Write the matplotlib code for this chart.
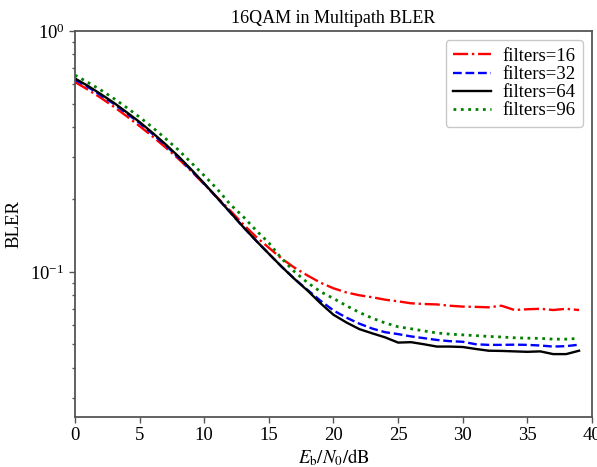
import matplotlib
matplotlib.use("Agg")
import matplotlib.pyplot as plt
import numpy as np

snr = list(range(40))
bler_16 = [0.614, 0.571, 0.528, 0.485, 0.443, 0.403, 0.365, 0.329, 0.295, 0.262,
           0.231, 0.204, 0.180, 0.158, 0.140, 0.126, 0.1135, 0.104, 0.0966, 0.0902,
           0.0855, 0.0822, 0.0800, 0.0785, 0.0767, 0.0755, 0.0741, 0.0736, 0.0733, 0.0724,
           0.0718, 0.0716, 0.0713, 0.0724, 0.0695, 0.0700, 0.0703, 0.0695, 0.0703, 0.0695]
bler_32 = [0.628, 0.586, 0.541, 0.499, 0.455, 0.415, 0.374, 0.336, 0.299, 0.264,
           0.232, 0.203, 0.177, 0.154, 0.135, 0.119, 0.105, 0.0935, 0.0841, 0.0759,
           0.0692, 0.0646, 0.0610, 0.0582, 0.0562, 0.0552, 0.0540, 0.0531, 0.0522, 0.0516,
           0.0513, 0.0501, 0.0498, 0.0498, 0.0499, 0.0498, 0.0495, 0.0490, 0.0492, 0.0499]
bler_64 = [0.635, 0.592, 0.547, 0.504, 0.460, 0.419, 0.378, 0.339, 0.302, 0.266,
           0.233, 0.203, 0.177, 0.154, 0.135, 0.119, 0.105, 0.0933, 0.0836, 0.0741,
           0.0664, 0.0617, 0.0579, 0.0556, 0.0535, 0.0509, 0.0511, 0.0501, 0.0490, 0.0490,
           0.0488, 0.0479, 0.0471, 0.0470, 0.0468, 0.0466, 0.0468, 0.0456, 0.0456, 0.0471]
bler_96 = [0.656, 0.612, 0.569, 0.525, 0.481, 0.439, 0.398, 0.358, 0.321, 0.284,
           0.251, 0.221, 0.191, 0.170, 0.149, 0.132, 0.1135, 0.100, 0.0902, 0.0828,
           0.0776, 0.0724, 0.0679, 0.0643, 0.0614, 0.0592, 0.0581, 0.0569, 0.0558, 0.0552,
           0.0548, 0.0544, 0.0540, 0.0537, 0.0533, 0.0531, 0.0530, 0.0526, 0.0526, 0.0530]

labels = ["filters=16", "filters=32", "filters=64", "filters=96"]

plt.rcParams['font.family'] = ['Liberation Serif', 'DejaVu Serif']
plt.rcParams['mathtext.fontset'] = 'stix'

fig = plt.figure(figsize=(5.97, 4.67), dpi=100)
ax = fig.add_axes([0.1256, 0.1071, 0.866, 0.8265])

ax.plot(snr, bler_16, color='red', linestyle='-.', linewidth=1.7, label=labels[0])
ax.plot(snr, bler_32, color='blue', linestyle='--', linewidth=1.7, label=labels[1])
ax.plot(snr, bler_64, color='black', linestyle='-', linewidth=1.7, label=labels[2])
ax.plot(snr, bler_96, color='green', linestyle=':', linewidth=2.0, label=labels[3])

ax.set_yscale('log')
ax.set_xlim(0, 40)
ax.set_ylim(0.025, 1.0)
ax.set_xticks([0, 5, 10, 15, 20, 25, 30, 35, 40])
ax.tick_params(labelsize=13.5, color='#555555', width=1.0, length=4)
ax.tick_params(which='minor', color='#555555', width=1.0, length=2.5)
for s in ax.spines.values():
    s.set_color('#555555')
    s.set_linewidth(1.3)

ax.set_title('16QAM in Multipath BLER', fontsize=13)
ax.set_ylabel('BLER', fontsize=13.5, labelpad=6)
ax.set_xlabel(r'$E_{\mathrm{b}}/N_0/\mathrm{dB}$', fontsize=13.5, labelpad=2)

leg = ax.legend(loc='upper right', fontsize=13.5, handlelength=2.0, labelspacing=0.05,
                frameon=True, fancybox=True, edgecolor='#bbbbbb', borderpad=0.4,
                handletextpad=0.6)

fig.savefig('out.png', dpi=100)
